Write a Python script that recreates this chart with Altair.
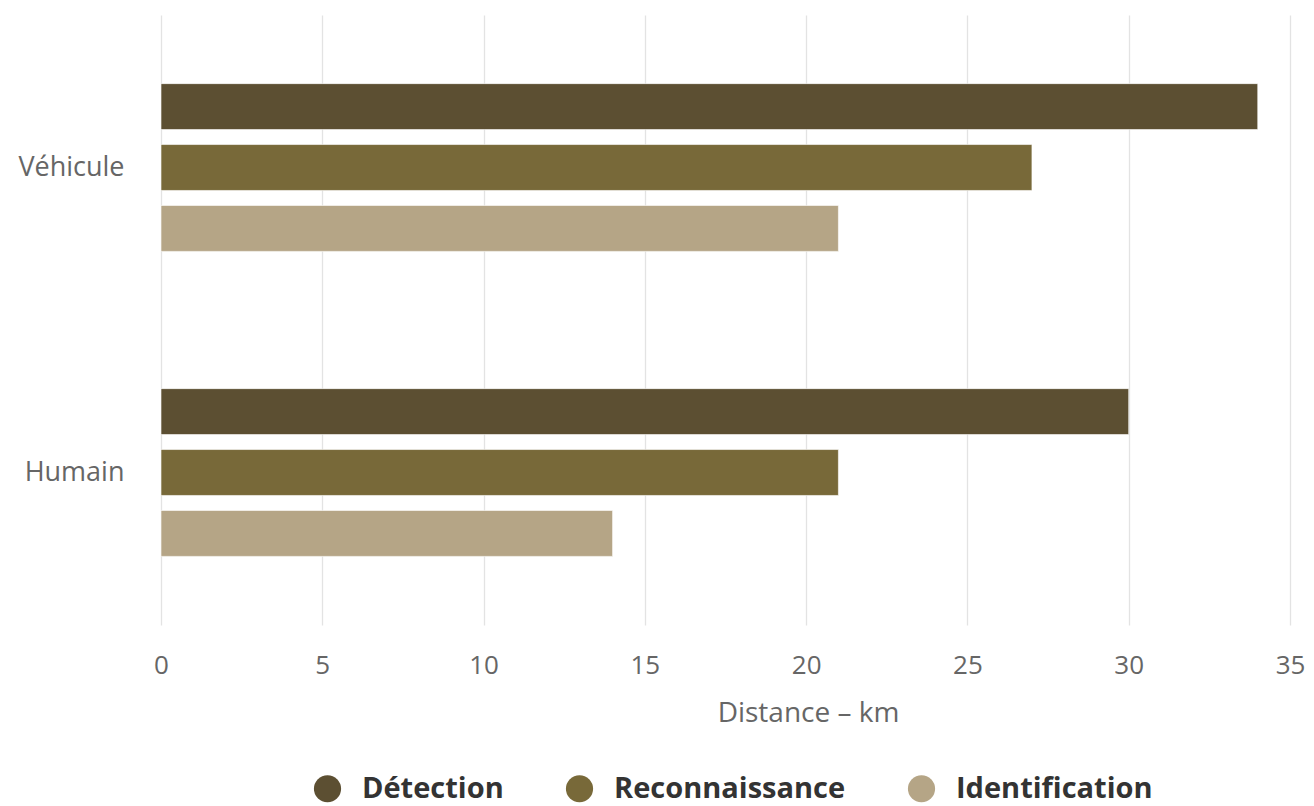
import altair as alt
import pandas as pd

categories = ["Véhicule", "Humain"]
series = ["Détection", "Reconnaissance", "Identification"]
detection = [34, 30]
reconnaissance = [27, 21]
identification = [21, 14]
colors = ["#5c4f32", "#786939", "#b5a586"]
x_ticks = [0, 5, 10, 15, 20, 25, 30, 35]

rows = []
for i, c in enumerate(categories):
    for s, vals in zip(series, [detection, reconnaissance, identification]):
        rows.append({"cat": c, "serie": s, "val": vals[i]})
df = pd.DataFrame(rows)

FONT = "Open Sans"

chart = alt.Chart(df).mark_bar(stroke="#ffffff", strokeWidth=1, strokeOpacity=0.6).encode(
    y=alt.Y("cat:N", sort=categories, title=None,
            scale=alt.Scale(paddingInner=0.45, paddingOuter=0.225),
            axis=alt.Axis(domain=False, ticks=False, labelPadding=37, labelFontSize=27,
                          labelColor="#666666", labelFont=FONT, grid=False)),
    yOffset=alt.YOffset("serie:N", sort=series,
                        scale=alt.Scale(paddingInner=0.246, paddingOuter=0)),
    x=alt.X("val:Q", title="Distance – km",
            scale=alt.Scale(domain=[0, 35], nice=False),
            axis=alt.Axis(values=x_ticks, domain=False, ticks=False, grid=True,
                          gridColor="#e3e3e3", gridWidth=1.3, labelFlush=False,
                          labelPadding=27, labelFontSize=26, labelColor="#666666",
                          labelFont=FONT, titleFont=FONT, titleFontSize=28,
                          titleFontWeight="normal", titleColor="#666666",
                          titlePadding=21, titleX=647, titleAlign="center")),
    color=alt.Color("serie:N", sort=series,
                    scale=alt.Scale(domain=series, range=colors),
                    legend=alt.Legend(title=None, orient="none", direction="horizontal",
                                      legendX=152, legendY=759,
                                      symbolType="circle", symbolSize=740,
                                      symbolStrokeWidth=0, symbolOpacity=1,
                                      labelFont=FONT, labelFontSize=29,
                                      labelFontWeight="bold", labelColor="#333333",
                                      labelOffset=20, columnPadding=61,
                                      labelLimit=400)),
).properties(
    width=1129, height=610,
    autosize=alt.AutoSizeParams(type="none"),
    padding={"left": 153, "top": 7, "right": 16, "bottom": 181},
).configure_view(stroke=None)

chart.save("out.html", embed_options={"renderer": "svg", "actions": False})
